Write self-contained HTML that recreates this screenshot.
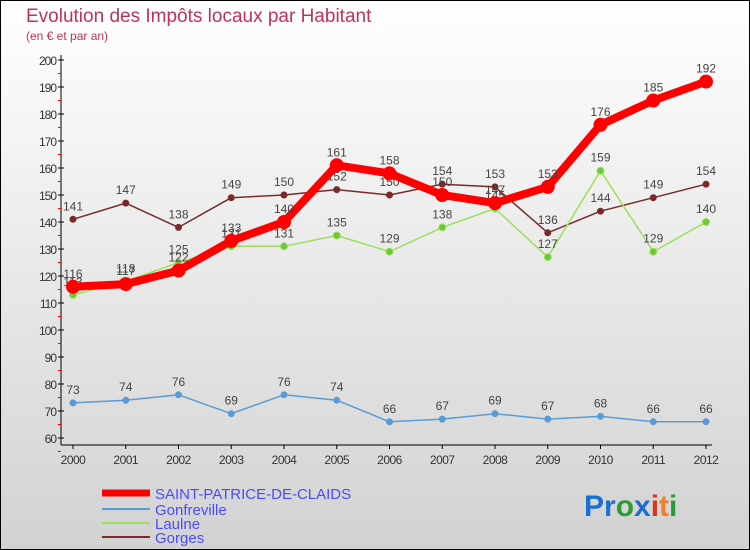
<!DOCTYPE html>
<html><head><meta charset="utf-8"><style>
body{margin:0}
svg{display:block;font-family:"Liberation Sans",sans-serif}
</style></head><body>
<svg id="c" width="750" height="550" xmlns="http://www.w3.org/2000/svg">
<defs><linearGradient id="bg" x1="0" y1="0" x2="0" y2="1"><stop offset="0" stop-color="#ffffff"/><stop offset="1" stop-color="#d2d2d2"/></linearGradient></defs>
<rect x="0.5" y="0.5" width="749" height="549" fill="url(#bg)" stroke="#000"/>
<text x="26" y="22" font-size="19" fill="#c0325a">Evolution des Impôts locaux par Habitant</text>
<text x="26" y="40" font-size="12" fill="#c0325a">(en € et par an)</text>
<g id="axes"></g><g id="series"></g>
<g>
<line x1="102" y1="493" x2="150" y2="493" stroke="#f00" stroke-width="7"/>
<text x="155" y="499" font-size="15" fill="#4a4aff">SAINT-PATRICE-DE-CLAIDS</text>
<line x1="102" y1="509" x2="150" y2="509" stroke="#5b9bd5" stroke-width="2"/>
<text x="155" y="515" font-size="15" fill="#4a4aff">Gonfreville</text>
<line x1="102" y1="523" x2="150" y2="523" stroke="#9be05a" stroke-width="2"/>
<text x="155" y="529" font-size="15" fill="#4a4aff">Laulne</text>
<line x1="102" y1="537" x2="150" y2="537" stroke="#7a2a2a" stroke-width="2"/>
<text x="155" y="543" font-size="15" fill="#4a4aff">Gorges</text>
</g>
<g font-size="30" font-weight="bold">
<text x="584" y="516"><tspan fill="#1a6fd0">Pr</tspan><tspan fill="#2a9a3a">o</tspan><tspan fill="#1a6fd0">x</tspan><tspan fill="#e03020">i</tspan><tspan fill="#f08020">t</tspan><tspan fill="#2a9a3a">i</tspan></text>
</g>
</svg>
<script>
const years=[2000,2001,2002,2003,2004,2005,2006,2007,2008,2009,2010,2011,2012];
const saintPatrice=[116,117,122,133,140,161,158,150,147,153,176,185,192];
const gonfreville=[73,74,76,69,76,74,66,67,69,67,68,66,66];
const laulne=[113,118,125,131,131,135,129,138,145,127,159,129,140];
const gorges=[141,147,138,149,150,152,150,154,153,136,144,149,154];
const yTicks=[60,70,80,90,100,110,120,130,140,150,160,170,180,190,200];
const NS="http://www.w3.org/2000/svg";
const xs=i=>73+i*52.75;
const ys=v=>438-(v-60)*2.7;
function mk(tag,attrs,parent,txt){const e=document.createElementNS(NS,tag);for(const k in attrs)e.setAttribute(k,attrs[k]);if(txt!==undefined)e.textContent=txt;parent.appendChild(e);return e;}
const ax=document.getElementById('axes');
let a=mk('line',{x1:61,y1:55,x2:61,y2:445,stroke:'#000'},ax);


a=mk('line',{x1:61,y1:445,x2:712,y2:445,stroke:'#000'},ax);


yTicks.forEach(v=>{const y=ys(v);
 mk('line',{x1:58,y1:y,x2:64,y2:y,stroke:'#000'},ax);
 mk('line',{x1:58,y1:y+13.5,x2:61,y2:y+13.5,stroke:'#f00'},ax);
 const t=mk('text',{x:56,y:y+5,'font-size':12,fill:'#333','text-anchor':'end','letter-spacing':'-1'},ax,v);
 
 });
years.forEach((yr,i)=>{const x=xs(i);
 mk('line',{x1:x,y1:445,x2:x,y2:449,stroke:'#000'},ax);
 const t=mk('text',{x:x,y:464,'font-size':12,fill:'#333','text-anchor':'middle','letter-spacing':'-0.5'},ax,yr);
 
 });
const sg=document.getElementById('series');
function draw(name,vals,col,w,r,fill){
 const g=mk('g',{},sg);
 
 
 const p=mk('polyline',{points:vals.map((v,i)=>xs(i)+','+ys(v)).join(' '),fill:'none',stroke:col,'stroke-width':w,'stroke-linejoin':'round'},g);
 
 
 vals.forEach((v,i)=>{
  const c=mk('circle',{cx:xs(i),cy:ys(v),r:r,fill:fill,stroke:col,'stroke-width':1},g);
  
  
  const t=mk('text',{x:xs(i),y:ys(v)-9,'font-size':12,fill:'#444','text-anchor':'middle'},g,v);
  
  });
}
draw('gonfreville',gonfreville,'#5b9bd5',1.5,3,'#5b9bd5');
draw('gorges',gorges,'#7a2a2a',1.5,3,'#7a2a2a');
draw('laulne',laulne,'#9be05a',1.5,3.5,'#6cc83a');
draw('saint-patrice',saintPatrice,'#f00',8,6.5,'#f00');
</script>
</body></html>
